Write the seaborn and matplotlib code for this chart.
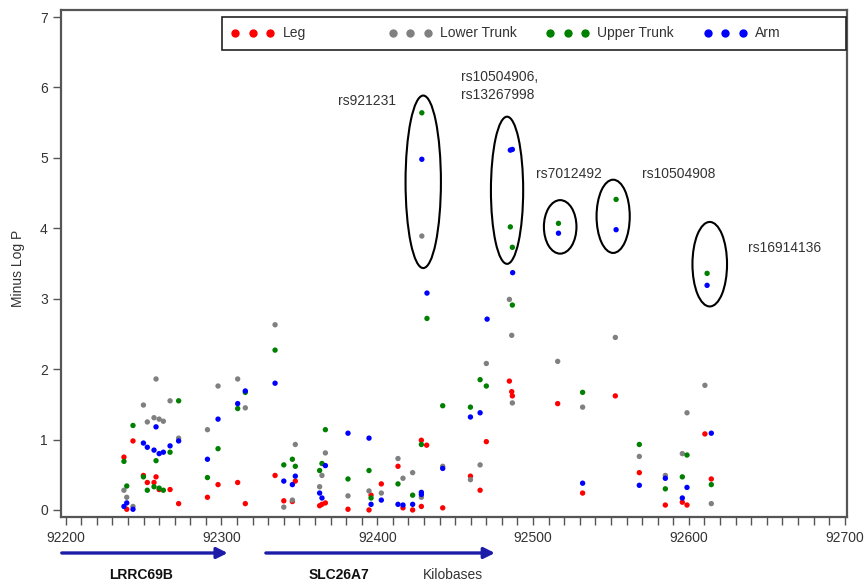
import pandas as pd
import numpy as np
import matplotlib
matplotlib.use('Agg')
import matplotlib.pyplot as plt
from matplotlib.patches import Ellipse, Rectangle
from matplotlib.ticker import MultipleLocator
import seaborn as sns

# SNP positions (kilobases) and -log10 P per body site
leg_kb = [92237.4, 92239.2, 92243.2, 92249.9, 92252.4, 92256.7, 92258.0, 92260.0, 92267.0, 92272.5,
          92291.0, 92297.8, 92310.4, 92315.3, 92334.4, 92340.0, 92347.4, 92345.5, 92363.0, 92364.5,
          92366.7, 92381.2, 92394.7, 92396.0, 92402.6, 92413.3, 92416.5, 92422.7, 92428.3, 92431.7,
          92428.3, 92442.0, 92459.8, 92466.0, 92470.0, 92484.8, 92486.3, 92486.7, 92515.8, 92531.8,
          92552.8, 92568.2, 92584.9, 92595.8, 92598.8, 92610.3, 92614.4]
leg_p = [0.75, 0.01, 0.98, 0.49, 0.39, 0.39, 0.47, 0.29, 0.29, 0.09,
         0.18, 0.36, 0.39, 0.09, 0.49, 0.13, 0.41, 0.12, 0.06, 0.08,
         0.10, 0.01, 0.00, 0.21, 0.37, 0.62, 0.03, 0.00, 0.99, 0.92,
         0.05, 0.03, 0.48, 0.28, 0.97, 1.83, 1.68, 1.62, 1.51, 0.24,
         1.62, 0.53, 0.07, 0.11, 0.07, 1.08, 0.44]

lower_kb = [92237.4, 92239.2, 92243.2, 92249.9, 92252.4, 92256.7, 92258.0, 92260.0, 92262.7, 92267.0,
            92272.5, 92291.0, 92297.8, 92310.4, 92315.3, 92334.4, 92340.0, 92345.5, 92347.4, 92363.0,
            92364.5, 92366.7, 92381.2, 92394.7, 92402.6, 92413.3, 92416.5, 92422.7, 92428.6, 92428.3,
            92442.0, 92459.8, 92466.0, 92470.0, 92484.8, 92486.3, 92486.7, 92515.8, 92531.8, 92552.8,
            92568.2, 92584.9, 92595.8, 92598.8, 92610.3, 92614.4]
lower_p = [0.28, 0.18, 0.05, 1.49, 1.25, 1.31, 1.86, 1.29, 1.26, 1.55,
           1.02, 1.14, 1.76, 1.86, 1.45, 2.63, 0.04, 0.14, 0.93, 0.33,
           0.49, 0.81, 0.20, 0.27, 0.24, 0.73, 0.45, 0.53, 3.89, 0.18,
           0.62, 0.43, 0.64, 2.08, 2.99, 2.48, 1.52, 2.11, 1.46, 2.45,
           0.76, 0.49, 0.80, 1.38, 1.77, 0.09]

upper_kb = [92237.4, 92239.2, 92243.2, 92249.9, 92252.4, 92256.7, 92258.0, 92260.0, 92262.7, 92267.0,
            92272.5, 92291.0, 92297.8, 92310.4, 92315.3, 92334.4, 92340.0, 92345.5, 92347.4, 92363.0,
            92364.5, 92366.7, 92381.2, 92394.7, 92396.0, 92413.3, 92422.7, 92428.3, 92428.6, 92431.9,
            92442.0, 92459.8, 92466.0, 92470.0, 92485.4, 92486.7, 92486.7, 92516.3, 92531.8, 92553.3,
            92568.2, 92584.9, 92595.8, 92598.8, 92611.7, 92614.4]
upper_p = [0.69, 0.34, 1.20, 0.47, 0.28, 0.33, 0.70, 0.31, 0.28, 0.82,
           1.55, 0.46, 0.87, 1.44, 1.67, 2.27, 0.64, 0.72, 0.62, 0.56,
           0.66, 1.14, 0.44, 0.56, 0.17, 0.37, 0.21, 0.93, 5.64, 2.72,
           1.48, 1.46, 1.85, 1.76, 4.02, 3.73, 2.91, 4.07, 1.67, 4.41,
           0.93, 0.30, 0.47, 0.78, 3.36, 0.36]

arm_kb = [92237.4, 92239.2, 92243.2, 92249.9, 92252.4, 92256.7, 92258.0, 92260.0, 92262.7, 92267.0,
          92272.5, 92291.0, 92297.8, 92310.4, 92315.3, 92334.4, 92340.0, 92345.5, 92347.4, 92363.0,
          92364.5, 92366.7, 92381.2, 92394.7, 92396.0, 92402.6, 92413.3, 92416.5, 92422.7, 92428.3,
          92428.3, 92428.6, 92431.9, 92442.0, 92459.8, 92466.0, 92470.5, 92485.4, 92486.7, 92486.9,
          92516.3, 92531.8, 92553.3, 92568.2, 92584.9, 92595.8, 92598.8, 92611.7, 92614.4]
arm_p = [0.05, 0.10, 0.01, 0.95, 0.89, 0.85, 1.18, 0.80, 0.82, 0.91,
         0.98, 0.72, 1.29, 1.51, 1.69, 1.80, 0.41, 0.36, 0.48, 0.24,
         0.17, 0.63, 1.09, 1.02, 0.08, 0.14, 0.08, 0.07, 0.08, 0.25,
         0.22, 4.98, 3.08, 0.59, 1.32, 1.38, 2.71, 5.11, 5.12, 3.37,
         3.93, 0.38, 3.98, 0.35, 0.45, 0.17, 0.32, 3.19, 1.09]

sites = ['Leg', 'Lower Trunk', 'Upper Trunk', 'Arm']
colors = ['#FF0000', '#808080', '#008000', '#0000FF']

# highlighted SNPs (ellipse centre / size in data units, label position)
snp_names = ['rs921231', 'rs10504906,\nrs13267998', 'rs7012492', 'rs10504908', 'rs16914136']
ell_kb = [92429.5, 92483.3, 92517.4, 92551.4, 92613.4]
ell_p = [4.66, 4.54, 4.02, 4.17, 3.49]
ell_w = [22.7, 20.7, 20.9, 21.3, 22.2]
ell_h = [2.45, 2.09, 0.76, 1.04, 1.20]
name_kb = [92374.6, 92453.5, 92501.7, 92569.7, 92637.7]
name_p = [5.81, 6.02, 4.77, 4.77, 3.72]

# genes along the bottom
gene_names = ['LRRC69B', 'SLC26A7']
gene_start = [92197.5, 92328.5]
gene_end = [92304.0, 92475.5]
gene_mid = [92248.6, 92375.5]

df = pd.concat([
    pd.DataFrame({'kb': leg_kb, 'logp': leg_p, 'site': 'Leg'}),
    pd.DataFrame({'kb': lower_kb, 'logp': lower_p, 'site': 'Lower Trunk'}),
    pd.DataFrame({'kb': upper_kb, 'logp': upper_p, 'site': 'Upper Trunk'}),
    pd.DataFrame({'kb': arm_kb, 'logp': arm_p, 'site': 'Arm'}),
], ignore_index=True)

sns.set_theme(style='white')
plt.rcParams['font.family'] = ['Liberation Sans', 'DejaVu Sans']
txt = '#333333'

fig = plt.figure(figsize=(8.64, 5.85), dpi=100)
ax = fig.add_axes([61 / 864, 1 - 517 / 585, 786 / 864, 507 / 585])

sns.scatterplot(data=df, x='kb', y='logp', hue='site', hue_order=sites, palette=colors,
                s=15, linewidth=0, legend=False, ax=ax, zorder=3)

ax.set_xlim(92197, 92701.5)
ax.set_ylim(-0.1, 7.1)
ax.xaxis.set_major_locator(MultipleLocator(100))
ax.xaxis.set_minor_locator(MultipleLocator(10))
ax.yaxis.set_major_locator(MultipleLocator(1))
ax.tick_params(axis='both', which='both', direction='out', length=6, width=1, color='#555555',
               labelsize=10, labelcolor=txt, bottom=True, left=True)
ax.tick_params(axis='x', pad=4)
ax.set_xlabel('')
ax.set_ylabel('Minus Log P', fontsize=10, color=txt)
ax.yaxis.set_label_coords(-0.046, 0.49)
for sp in ax.spines.values():
    sp.set_color('#555555')
    sp.set_linewidth(1.6)

# ellipses round the top hits
for cx, cy, w, h in zip(ell_kb, ell_p, ell_w, ell_h):
    ax.add_patch(Ellipse((cx, cy), w, h, fill=False, edgecolor='black', lw=1.5, zorder=4))
for name, x, y in zip(snp_names, name_kb, name_p):
    ax.text(x, y, name, fontsize=10, color=txt, ha='left', va='center', linespacing=1.3)

# legend box drawn like the original (evenly spaced entries, three dots each)
ax.add_patch(Rectangle((0.2048, 0.9211), 0.7939, 0.0651, transform=ax.transAxes,
                       fill=True, facecolor='white', edgecolor='#222222', lw=1.2, zorder=5))
for i, (site, col) in enumerate(zip(sites, colors)):
    x0 = 0.2219 + i * 0.2004
    ax.plot([x0, x0 + 0.0223, x0 + 0.0446], [0.9546] * 3, 'o', color=col, ms=6,
            mec='none', transform=ax.transAxes, zorder=6, clip_on=False)
    ax.text(x0 + 0.0598, 0.9546, site, fontsize=10, color=txt, ha='left', va='center',
            transform=ax.transAxes, zorder=6)

# gene arrows under the axis
trans = ax.get_xaxis_transform()
for name, s, e, m in zip(gene_names, gene_start, gene_end, gene_mid):
    ax.annotate('', xy=(e, -0.071), xytext=(s, -0.071), xycoords=trans, textcoords=trans,
                annotation_clip=False,
                arrowprops=dict(arrowstyle='-|>', color='#1c1ca8', lw=2.4, mutation_scale=16,
                                shrinkA=0, shrinkB=0))
    ax.text(m, -0.114, name, transform=trans, fontsize=10, fontweight='bold', color='#111111',
            ha='center', va='center')
ax.text(92448.8, -0.114, 'Kilobases', transform=trans, fontsize=10, color=txt,
        ha='center', va='center')

fig.savefig('out.png', dpi=100)
